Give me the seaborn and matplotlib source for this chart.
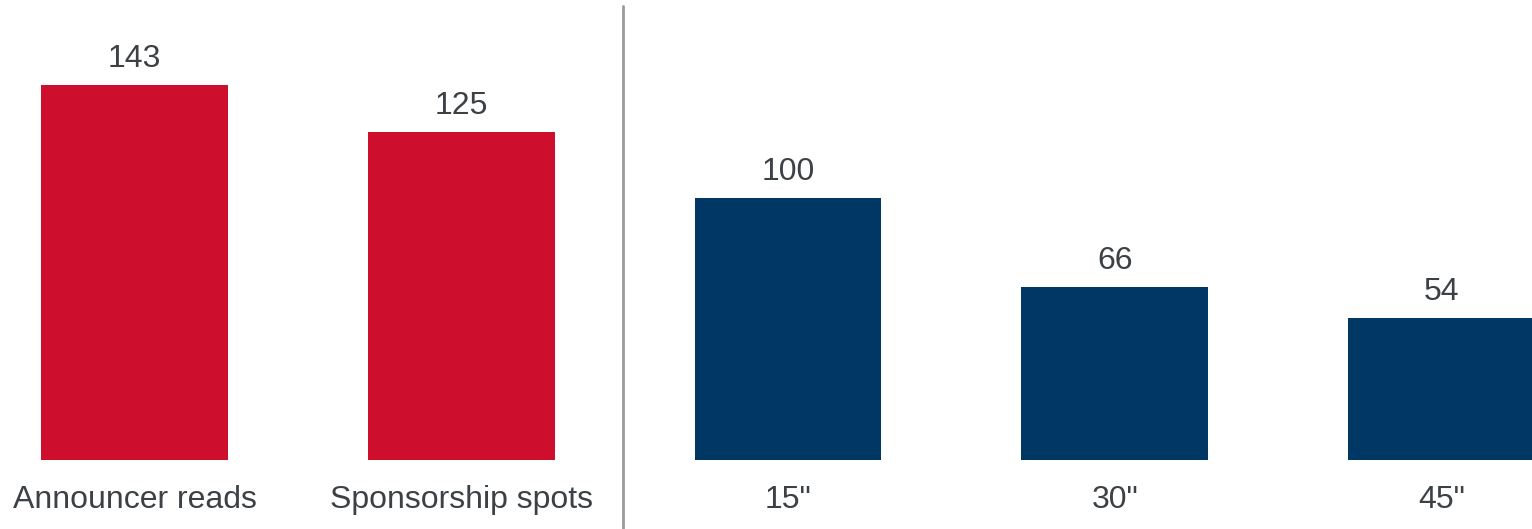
import matplotlib
matplotlib.use("Agg")
import matplotlib.pyplot as plt
import seaborn as sns
import pandas as pd

categories = ["Announcer reads", "Sponsorship spots", "15\"", "30\"", "45\""]
values = [143, 125, 100, 66, 54]
groups = ["Sponsorship", "Sponsorship", "Spot", "Spot", "Spot"]
palette = {"Sponsorship": "#CE0E2D", "Spot": "#003764"}

df = pd.DataFrame({"category": categories, "value": values, "group": groups})

sns.set_theme(style="white")
plt.rcParams['font.family'] = ['Liberation Sans', 'DejaVu Sans']

fig = plt.figure(figsize=(15.32, 5.29), dpi=100)
ax = fig.add_axes([0, 69 / 529, 1, 460 / 529])

sns.barplot(data=df, x="category", y="value", hue="group", palette=palette,
            dodge=False, width=0.572, legend=False, ax=ax, saturation=1,
            linewidth=0)

for c in ax.containers:
    ax.bar_label(c, labels=[f"{v:.0f}" if v == v and v > 0 else "" for v in c.datavalues],
                 padding=8, fontsize=23, color="#3B4145")

ax.set_xlim(-0.4116, 4.277)
ax.set_ylim(0, 175.4)
ax.set_xlabel("")
ax.set_ylabel("")
ax.set_yticks([])
ax.tick_params(axis="x", length=0, pad=18, labelsize=23, labelcolor="#3B4145")
for s in ax.spines.values():
    s.set_visible(False)

ax.axvline(1.495, ymin=-0.15, ymax=0.987, color="#9A9A9A", lw=2, clip_on=False)

fig.savefig("out.png", dpi=100)
